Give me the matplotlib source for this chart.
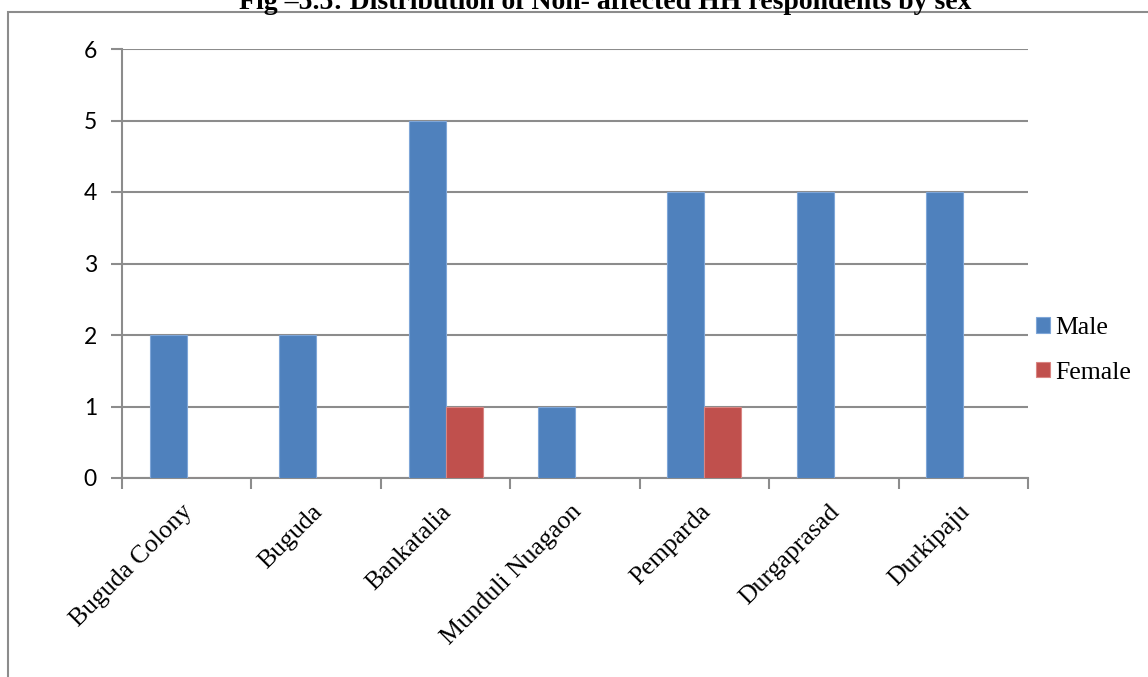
import matplotlib.pyplot as plt
import matplotlib.transforms as mtransforms
import numpy as np
from matplotlib.patches import Rectangle

villages = ['Buguda Colony', 'Buguda', 'Bankatalia', 'Munduli Nuagaon',
            'Pemparda', 'Durgaprasad', 'Durkipaju']
male = [2, 2, 5, 1, 4, 4, 4]
female = [0, 0, 1, 0, 1, 0, 0]
yticks = [0, 1, 2, 3, 4, 5, 6]

W, H = 1148, 677
fig = plt.figure(figsize=(W / 100, H / 100), dpi=100)

# outer chart frame, partly running off the page
fig.patches.append(Rectangle((8 / W, -0.1), 1.2, 1 - 12 / H + 0.1,
                             transform=fig.transFigure, fill=False,
                             edgecolor='#8c8c8c', linewidth=1.5, zorder=0))

fig.text(605 / W, 1 - 9 / H,
         'Fig \u20135.5: Distribution of Non- affected HH respondents by sex',
         ha='center', va='baseline', fontsize=20, fontweight='bold',
         family='Liberation Serif')

ax = fig.add_axes([122 / W, 1 - 478 / H, (1028 - 122) / W, (478 - 49) / H])

x = np.arange(len(villages))
bw = 0.286
ax.bar(x - bw / 2, male, bw, color='#4F81BD', edgecolor='#7fa6d8',
       linewidth=0.8, label='Male', zorder=3)
ax.bar(x + bw / 2, female, bw, color='#C0504D', edgecolor='#d98683',
       linewidth=0.8, label='Female', zorder=3)

ax.set_xlim(-0.5, len(villages) - 0.5)
ax.set_ylim(0, 6)
ax.set_yticks(yticks)
ax.yaxis.grid(True, color='#8c8c8c', linewidth=1.5, zorder=0)
ax.set_axisbelow(True)

for side in ['top', 'right']:
    ax.spines[side].set_visible(False)
for side in ['left', 'bottom']:
    ax.spines[side].set_color('#8c8c8c')
    ax.spines[side].set_linewidth(1.5)

ax.tick_params(axis='y', length=8, width=1.5, color='#8c8c8c', pad=10,
               labelsize=16.5)
for lab in ax.get_yticklabels():
    lab.set_family('Lato')

# x ticks sit on the category boundaries, labels in the middle
ax.set_xticks(np.arange(len(villages) + 1) - 0.5)
ax.set_xticklabels([])
ax.set_xticks(x, minor=True)
ax.set_xticklabels(villages, minor=True, rotation=45, ha='right',
                   va='top', rotation_mode='anchor', fontsize=18.5,
                   family='Liberation Serif')
ax.tick_params(axis='x', which='major', length=8, width=1.5,
               color='#8c8c8c')
ax.tick_params(axis='x', which='minor', length=0, pad=12)

# nudge the slanted labels a little down and left
shift = mtransforms.ScaledTranslation(-5 / 100, -6 / 100, fig.dpi_scale_trans)
for lab in ax.get_xticklabels(minor=True):
    lab.set_transform(lab.get_transform() + shift)

ax.legend(loc='center left', bbox_to_anchor=(1036 / W, 1 - 350.5 / H),
          bbox_transform=fig.transFigure, frameon=False,
          prop={'family': 'Liberation Serif', 'size': 18.5},
          handlelength=0.55, handleheight=0.55, handletextpad=0.2,
          labelspacing=0.87, borderaxespad=0, borderpad=0)

fig.savefig('out.png', dpi=100)
